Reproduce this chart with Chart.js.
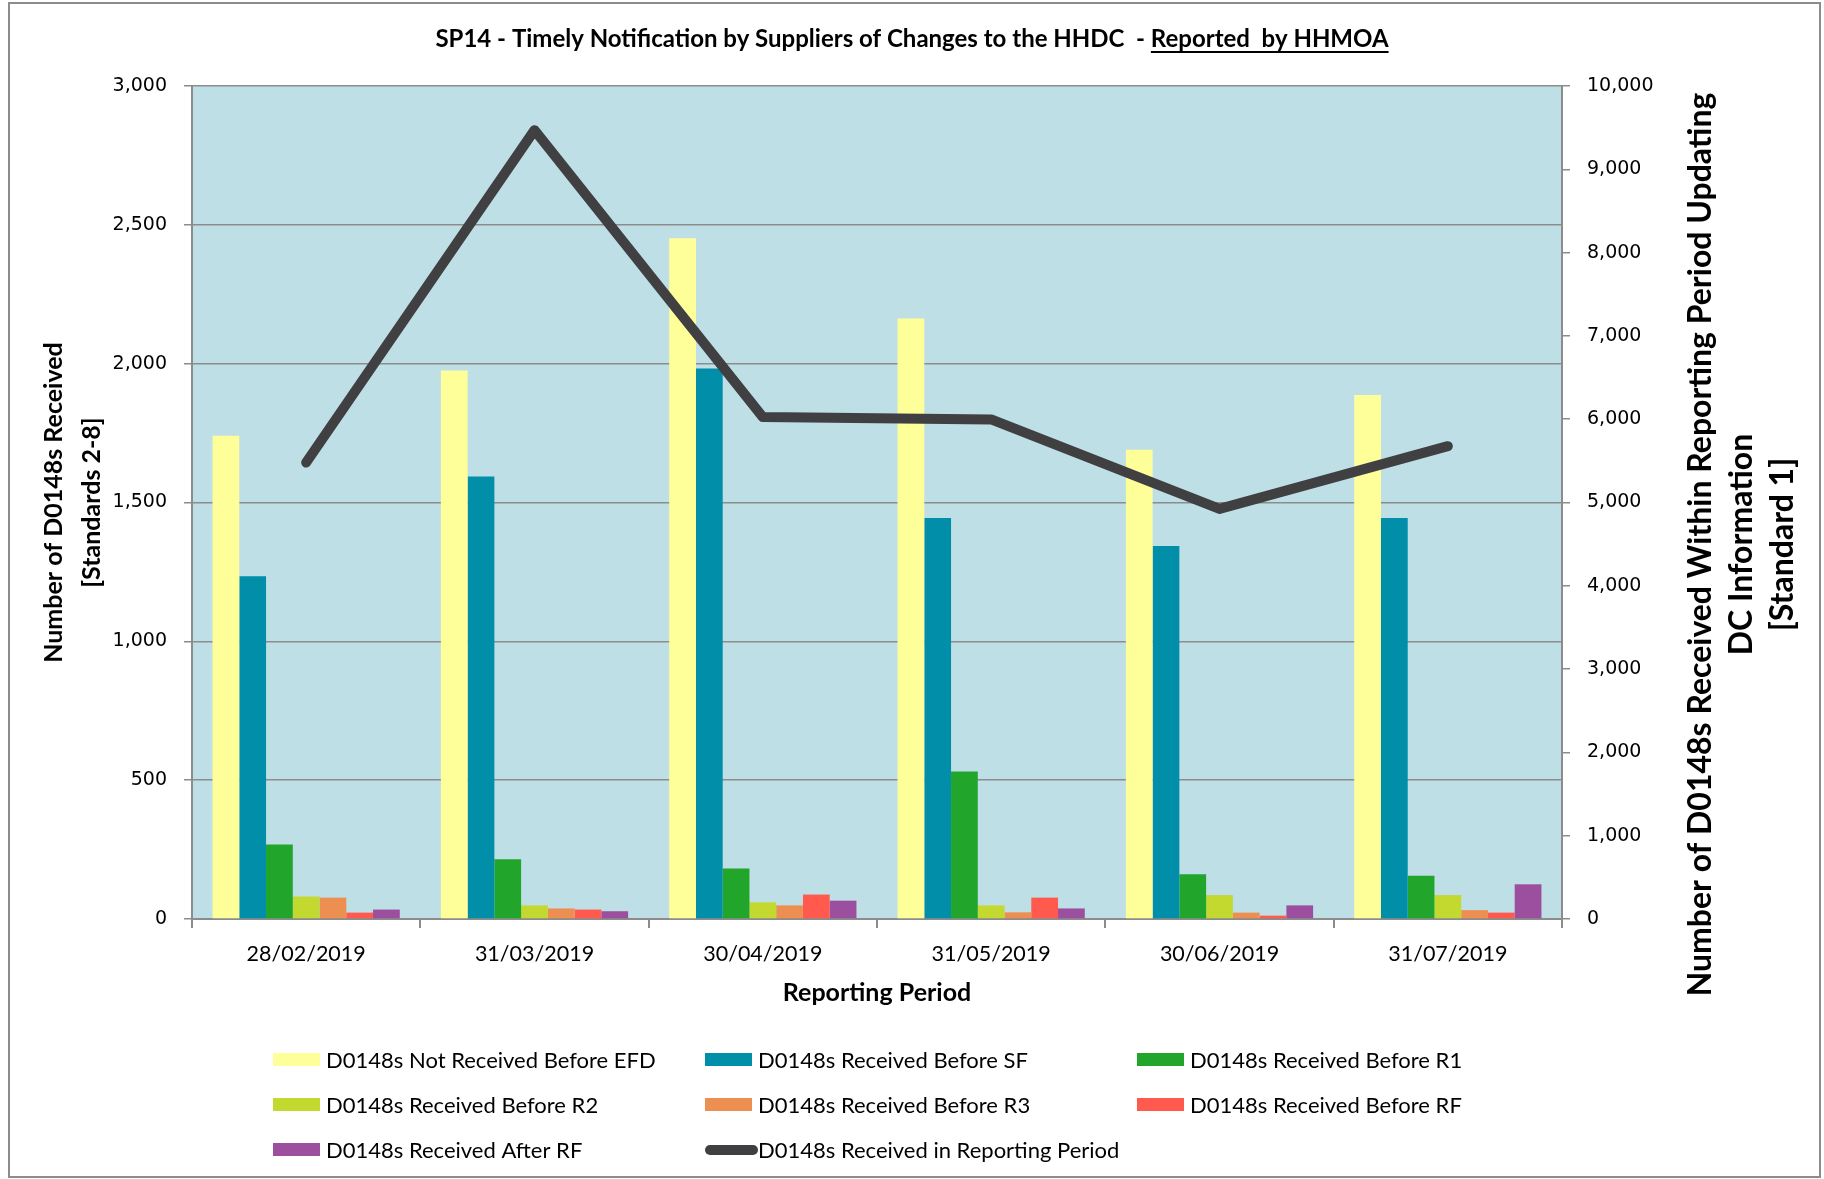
<!DOCTYPE html>
<html>
<head>
<meta charset="utf-8">
<script src="https://cdn.jsdelivr.net/npm/chart.js@4.4.1/dist/chart.umd.min.js"></script>
<style>
  html, body { margin: 0; padding: 0; background: #ffffff; }
  #wrap { position: relative; width: 1824px; height: 1179px; }
</style>
</head>
<body>
<div id="wrap"><canvas id="sp14"></canvas></div>
<script>
const periodos = ['28/02/2019', '31/03/2019', '30/04/2019', '31/05/2019', '30/06/2019', '31/07/2019'];

// Standards 2-8 (eje izquierdo)
const noRecibidoEFD = [1740, 1975, 2452, 2163, 1690, 1887];
const recibidoSF = [1234, 1594, 1983, 1444, 1343, 1444];
const recibidoR1 = [268, 215, 182, 531, 161, 156];
const recibidoR2 = [81, 49, 60, 49, 86, 86];
const recibidoR3 = [77, 38, 49, 24, 23, 32];
const recibidoRF = [23, 34, 88, 77, 12, 23];
const despuesRF = [34, 28, 66, 38, 49, 125];

// Standard 1 (eje derecho)
const recibidosPeriodo = [5480, 9470, 6025, 5997, 4923, 5676];

const ticksIzq = [0, 500, 1000, 1500, 2000, 2500, 3000];
const ticksDer = [0, 1000, 2000, 3000, 4000, 5000, 6000, 7000, 8000, 9000, 10000];

const tituloNormal = 'SP14 - Timely Notification by Suppliers of Changes to the HHDC  - ';
const tituloSubrayado = 'Reported  by HHMOA';
const tituloDerecho = ['Number of D0148s Received Within Reporting Period Updating', 'DC Information', '[Standard 1]'];

const LATO = 'Lato, "DejaVu Sans", sans-serif';
const GRIS = '#8c8c8c';
const fmt = v => Number(v).toLocaleString('en-US');

// fondo azul del area de trazado
const fondoPlot = {
  id: 'fondoPlot',
  beforeDraw(chart) {
    const { ctx, chartArea: a } = chart;
    ctx.save();
    ctx.fillStyle = '#bedfe5';
    ctx.fillRect(a.left, a.top, a.right - a.left, a.bottom - a.top);
    ctx.restore();
  }
};

// titulo con parte subrayada, titulo del eje derecho, leyenda en 3 columnas y marco
const extras = {
  id: 'extras',
  afterDraw(chart) {
    const { ctx, chartArea: a, width, height } = chart;
    ctx.save();

    // marco exterior
    ctx.strokeStyle = GRIS;
    ctx.lineWidth = 2;
    ctx.strokeRect(9, 3, width - 13, height - 5);

    // titulo
    ctx.font = 'bold 24px ' + LATO;
    ctx.fillStyle = '#000';
    ctx.textBaseline = 'middle';
    ctx.textAlign = 'left';
    const w1 = ctx.measureText(tituloNormal).width;
    const w2 = ctx.measureText(tituloSubrayado).width;
    const x0 = width / 2 - (w1 + w2) / 2;
    const ty = 39;
    ctx.fillText(tituloNormal, x0, ty);
    ctx.fillText(tituloSubrayado, x0 + w1, ty);
    ctx.fillRect(x0 + w1, ty + 12, w2, 2);

    // titulo eje derecho (se lee de abajo hacia arriba)
    ctx.font = 'bold 32px ' + LATO;
    ctx.textAlign = 'center';
    const cy = (a.top + a.bottom) / 2 + 42;
    tituloDerecho.forEach((t, i) => {
      ctx.save();
      ctx.translate(1701 + i * 41, cy);
      ctx.rotate(-Math.PI / 2);
      ctx.fillText(t, 0, 0);
      ctx.restore();
    });

    // leyenda
    const colX = [273, 705, 1137];
    const filaY = [1060, 1105, 1150];
    ctx.font = '22px ' + LATO;
    ctx.textAlign = 'left';
    chart.data.datasets.forEach((ds, i) => {
      const x = colX[i % 3];
      const y = filaY[Math.floor(i / 3)];
      if (ds.type === 'line') {
        ctx.strokeStyle = ds.borderColor;
        ctx.lineWidth = 10;
        ctx.lineCap = 'round';
        ctx.beginPath();
        ctx.moveTo(x + 5, y);
        ctx.lineTo(x + 48, y);
        ctx.stroke();
      } else {
        ctx.fillStyle = ds.backgroundColor;
        ctx.fillRect(x, y - 7, 47, 13);
      }
      ctx.fillStyle = '#000';
      ctx.fillText(ds.label, x + 53, y + 1);
    });

    ctx.restore();
  }
};

const barra = (label, data, color) => ({
  type: 'bar',
  label: label,
  data: data,
  backgroundColor: color,
  borderWidth: 0,
  yAxisID: 'y',
  order: 1
});

const ctxSP14 = document.getElementById('sp14');

const graficoSP14 = new Chart(ctxSP14, {
  data: {
    labels: periodos,
    datasets: [
      barra('D0148s Not Received Before EFD', noRecibidoEFD, '#ffff99'),
      barra('D0148s Received Before SF', recibidoSF, '#008ea9'),
      barra('D0148s Received Before R1', recibidoR1, '#22a52b'),
      barra('D0148s Received Before R2', recibidoR2, '#c3d92f'),
      barra('D0148s Received Before R3', recibidoR3, '#ec8f51'),
      barra('D0148s Received Before RF', recibidoRF, '#ff5a4d'),
      barra('D0148s Received After RF', despuesRF, '#9b4f9e'),
      {
        type: 'line',
        label: 'D0148s Received in Reporting Period',
        data: recibidosPeriodo,
        borderColor: '#404042',
        backgroundColor: '#404042',
        borderWidth: 10,
        borderCapStyle: 'round',
        borderJoinStyle: 'round',
        pointRadius: 0,
        tension: 0,
        yAxisID: 'y1',
        order: 0
      }
    ]
  },
  options: {
    responsive: true,
    maintainAspectRatio: false,
    animation: false,
    layout: { padding: { top: 86, left: 0, right: 0, bottom: 160 } },
    datasets: {
      bar: { categoryPercentage: 0.82, barPercentage: 1.0 }
    },
    plugins: {
      legend: { display: false },
      title: { display: false },
      tooltip: { enabled: false }
    },
    scales: {
      x: {
        afterFit(scale) { scale.height = 100; },
        grid: { display: true, offset: true, drawOnChartArea: false, drawTicks: true, tickLength: 9, color: GRIS, lineWidth: 2 },
        border: { display: true, color: GRIS, width: 2 },
        ticks: { color: '#000', padding: 13, font: { family: LATO, size: 21.5 }, maxRotation: 0 },
        title: {
          display: true,
          text: 'Reporting Period',
          color: '#000',
          font: { family: LATO, size: 25, weight: 'bold' },
          padding: { top: 0, bottom: 11 }
        }
      },
      y: {
        position: 'left',
        min: 0,
        max: 3000,
        afterFit(scale) { scale.width = 192; },
        afterBuildTicks(scale) { scale.ticks = ticksIzq.map(v => ({ value: v })); },
        grid: { color: GRIS, lineWidth: 1.5, tickLength: 8 },
        border: { display: true, color: GRIS, width: 2 },
        ticks: { color: '#000', padding: 17, font: { family: '"DejaVu Sans"', size: 19 }, callback: fmt },
        title: {
          display: true,
          text: ['Number of D0148s Received', '[Standards 2-8]'],
          color: '#000',
          font: { family: LATO, size: 25, weight: 'bold', lineHeight: '38px' },
          padding: { top: 35, bottom: 0 }
        }
      },
      y1: {
        position: 'right',
        min: 0,
        max: 10000,
        afterFit(scale) { scale.width = 262; },
        afterBuildTicks(scale) { scale.ticks = ticksDer.map(v => ({ value: v })); },
        grid: { drawOnChartArea: false, color: GRIS, lineWidth: 1.5, tickLength: 8 },
        border: { display: true, color: GRIS, width: 2 },
        ticks: { color: '#000', padding: 17, font: { family: '"DejaVu Sans"', size: 19 }, callback: fmt },
        title: { display: false }
      }
    }
  },
  plugins: [fondoPlot, extras]
});
</script>
</body>
</html>
